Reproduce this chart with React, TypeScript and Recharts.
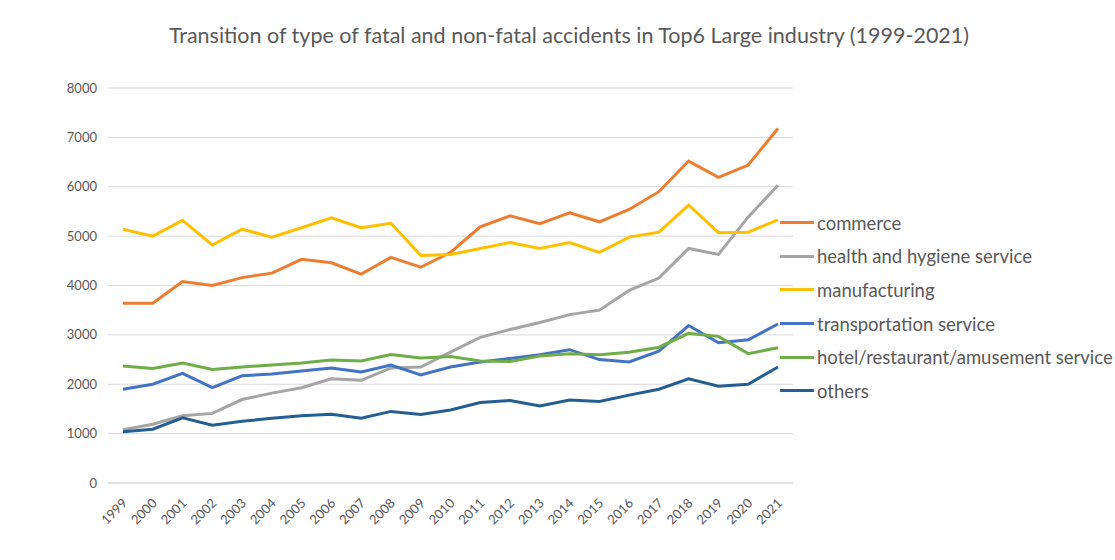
import { CartesianGrid, Line, LineChart, XAxis, YAxis } from "recharts"

const YEARS = [
  "1999", "2000", "2001", "2002", "2003", "2004", "2005", "2006", "2007", "2008", "2009", "2010",
  "2011", "2012", "2013", "2014", "2015", "2016", "2017", "2018", "2019", "2020", "2021",
]

const COMMERCE = [
  3640, 3640, 4080, 4000, 4160, 4250, 4530, 4460, 4230, 4570, 4370, 4670,
  5190, 5410, 5250, 5470, 5290, 5540, 5900, 6520, 6190, 6440, 7180,
]
const HEALTH = [
  1080, 1190, 1360, 1410, 1690, 1820, 1930, 2110, 2080, 2330, 2350, 2650,
  2950, 3110, 3250, 3410, 3500, 3900, 4150, 4750, 4630, 5390, 6030,
]
const MANUFACTURING = [
  5140, 5000, 5320, 4820, 5140, 4980, 5170, 5370, 5170, 5260, 4610, 4630,
  4750, 4870, 4750, 4870, 4670, 4980, 5080, 5630, 5070, 5080, 5330,
]
const TRANSPORTATION = [
  1900, 2000, 2220, 1930, 2170, 2210, 2270, 2330, 2250, 2390, 2190, 2350,
  2450, 2520, 2600, 2700, 2500, 2450, 2670, 3190, 2840, 2900, 3220,
]
const HOTEL = [
  2370, 2320, 2430, 2300, 2350, 2390, 2430, 2490, 2470, 2600, 2530, 2560,
  2470, 2460, 2570, 2620, 2600, 2650, 2750, 3030, 2970, 2620, 2740,
]
const OTHERS = [
  1040, 1090, 1320, 1170, 1250, 1310, 1360, 1390, 1310, 1450, 1390, 1480,
  1630, 1670, 1560, 1680, 1650, 1780, 1900, 2110, 1960, 2000, 2350,
]

const Y_TICKS = [0, 1000, 2000, 3000, 4000, 5000, 6000, 7000, 8000]

const SERIES = [
  { key: "commerce", values: COMMERCE, color: "#ED7D31" },
  { key: "health and hygiene service", values: HEALTH, color: "#A5A5A5" },
  { key: "manufacturing", values: MANUFACTURING, color: "#FFC000" },
  { key: "transportation service", values: TRANSPORTATION, color: "#4472C4" },
  { key: "hotel/restaurant/amusement service", values: HOTEL, color: "#70AD47" },
  { key: "others", values: OTHERS, color: "#255E91" },
]

const data = YEARS.map((year, i) => {
  const row: Record<string, string | number> = { year }
  SERIES.forEach((s) => {
    row[s.key] = s.values[i]
  })
  return row
})

const FONT = "Lato, 'Open Sans', sans-serif"
const TEXT_COLOR = "#595959"

function YearTick({ x, y, payload }: any) {
  return (
    <text
      x={x + 5}
      y={y + 13}
      textAnchor="end"
      transform={`rotate(-45 ${x + 5} ${y + 13})`}
      fill={TEXT_COLOR}
      fontSize={13}
      fontFamily={FONT}
    >
      {payload.value}
    </text>
  )
}

// legend sits on the right, overlapping the end of the gridlines like Excel does
function SideLegend() {
  return (
    <div style={{ position: "absolute", left: 780, top: 206, fontFamily: FONT }}>
      {SERIES.map((s) => (
        <div
          key={s.key}
          style={{ display: "flex", alignItems: "center", height: 33.6 }}
        >
          <span
            style={{
              display: "inline-block",
              width: 34,
              height: 3,
              background: s.color,
              marginRight: 3,
            }}
          />
          <span style={{ fontSize: 18.5, color: TEXT_COLOR, whiteSpace: "nowrap" }}>
            {s.key}
          </span>
        </div>
      ))}
    </div>
  )
}

export default function App() {
  return (
    <div style={{ position: "relative", width: 1115, height: 560, background: "#fff" }}>
      <style>{"body{margin:0}"}</style>
      <div
        style={{
          position: "absolute",
          top: 22,
          left: 0,
          width: 1138,
          textAlign: "center",
          fontFamily: FONT,
          fontSize: 21.5,
          color: TEXT_COLOR,
          whiteSpace: "nowrap",
        }}
      >
        Transition of type of fatal and non-fatal accidents in Top6 Large industry (1999-2021)
      </div>
      <LineChart
        width={1115}
        height={560}
        data={data}
        margin={{ top: 88, right: 322, bottom: 0, left: 0 }}
      >
        <CartesianGrid stroke="#D9D9D9" vertical={false} />
        <XAxis
          dataKey="year"
          interval={0}
          height={77}
          padding={{ left: 15, right: 15 }}
          tick={<YearTick />}
          tickLine={false}
          axisLine={{ stroke: "#D9D9D9" }}
        />
        <YAxis
          width={108}
          domain={[0, 8000]}
          ticks={Y_TICKS}
          tickLine={false}
          axisLine={false}
          tickSize={0}
          tickMargin={11}
          tick={{ fill: TEXT_COLOR, fontSize: 13, fontFamily: FONT }}
        />
        {SERIES.map((s) => (
          <Line
            key={s.key}
            dataKey={s.key}
            stroke={s.color}
            strokeWidth={3}
            dot={false}
            type="linear"
            isAnimationActive={false}
          />
        ))}
      </LineChart>
      <SideLegend />
    </div>
  )
}
